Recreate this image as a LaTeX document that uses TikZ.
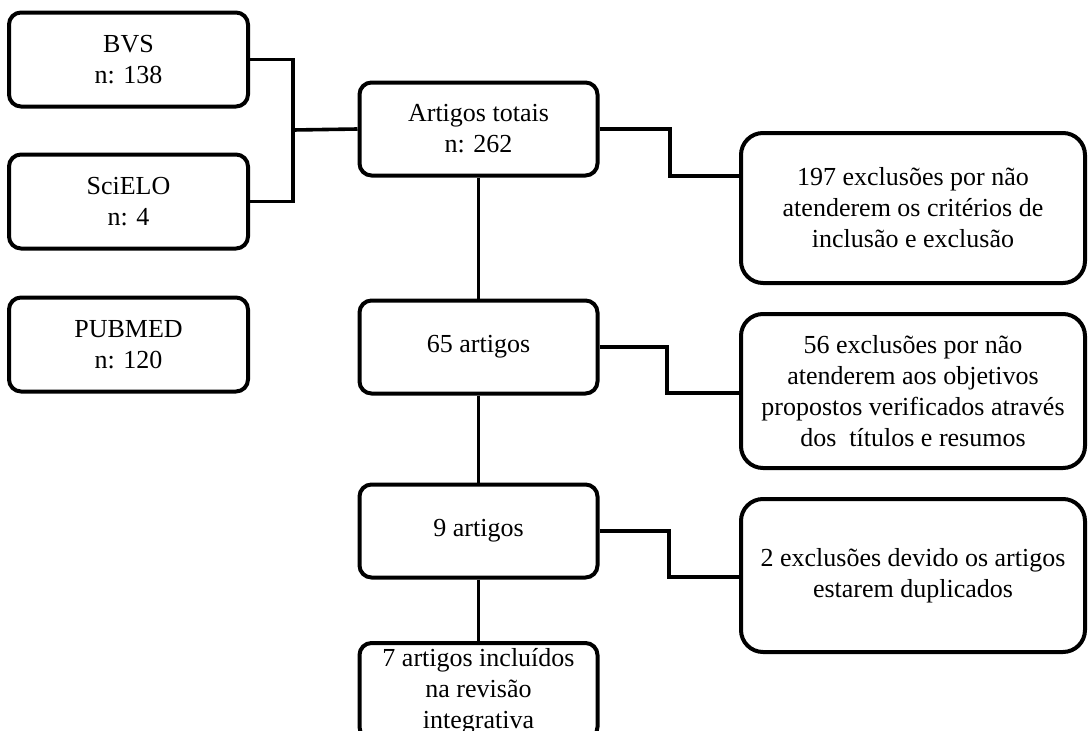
\documentclass[tikz,border=0pt]{standalone}
\usepackage{fontspec}
\setmainfont{Liberation Serif}
\begin{document}
\begin{tikzpicture}[x=1pt,y=-1pt,
  box/.style={draw, line width=4pt, rounded corners=12pt, align=center, inner sep=0pt,
    font=\fontsize{26}{31}\selectfont},
  lbox/.style={box, minimum width=239pt, minimum height=94pt},
  cbox/.style={box, minimum width=238pt, minimum height=93pt},
  rbox/.style={box, rounded corners=22pt, minimum width=344pt},
  link/.style={line width=3.6pt}]
\useasboundingbox (0,0) rectangle (1088,731);
\fill[white] (0,0) rectangle (1088,731);
% left boxes
\node[lbox] (bvs) at (128.5,59.5) {BVS\\n: 138};
\node[lbox] (sci) at (128.5,201.5) {SciELO\\n: 4};
\node[lbox] (pub) at (128.5,344.5) {PUBMED\\n: 120};
% centre column
\node[cbox] (art) at (478.5,129) {Artigos totais\\n: 262};
\node[cbox] (a65) at (478.5,347) {65 artigos};
\node[cbox] (a9) at (478.5,531) {9 artigos};
\node[cbox, minimum height=96pt] (a7) at (478.5,691) {7 artigos incluídos\\na revisão\\integrativa};
% right column
\node[rbox, minimum height=150pt] (ex1) at (913,208) {197 exclusões por não\\atenderem os critérios de\\inclusão e exclusão};
\node[rbox, minimum height=154pt] (ex2) at (913,391) {56 exclusões por não\\atenderem aos objetivos\\propostos verificados através\\dos\ \ títulos e resumos};
\node[rbox, minimum height=153pt] (ex3) at (913,575.5) {2 exclusões devido os artigos\\estarem duplicados};
% connectors
\coordinate (jL) at (293,130);
\draw[link] (bvs.east) -| (jL) |- (sci.east);
\draw[link] (jL) -- (art.west);
\coordinate (j1) at (670,176);
\draw[link] (art.east) -| (j1) -- (j1 -| ex1.west);
\coordinate (j2) at (667,393);
\draw[link] (a65.east) -| (j2) -- (j2 -| ex2.west);
\coordinate (j3) at (669,577);
\draw[link] (a9.east) -| (j3) -- (j3 -| ex3.west);
\draw[link] (art.south) -- (a65.north);
\draw[link] (a65.south) -- (a9.north);
\draw[link] (a9.south) -- (a7.north);
\end{tikzpicture}
\end{document}
